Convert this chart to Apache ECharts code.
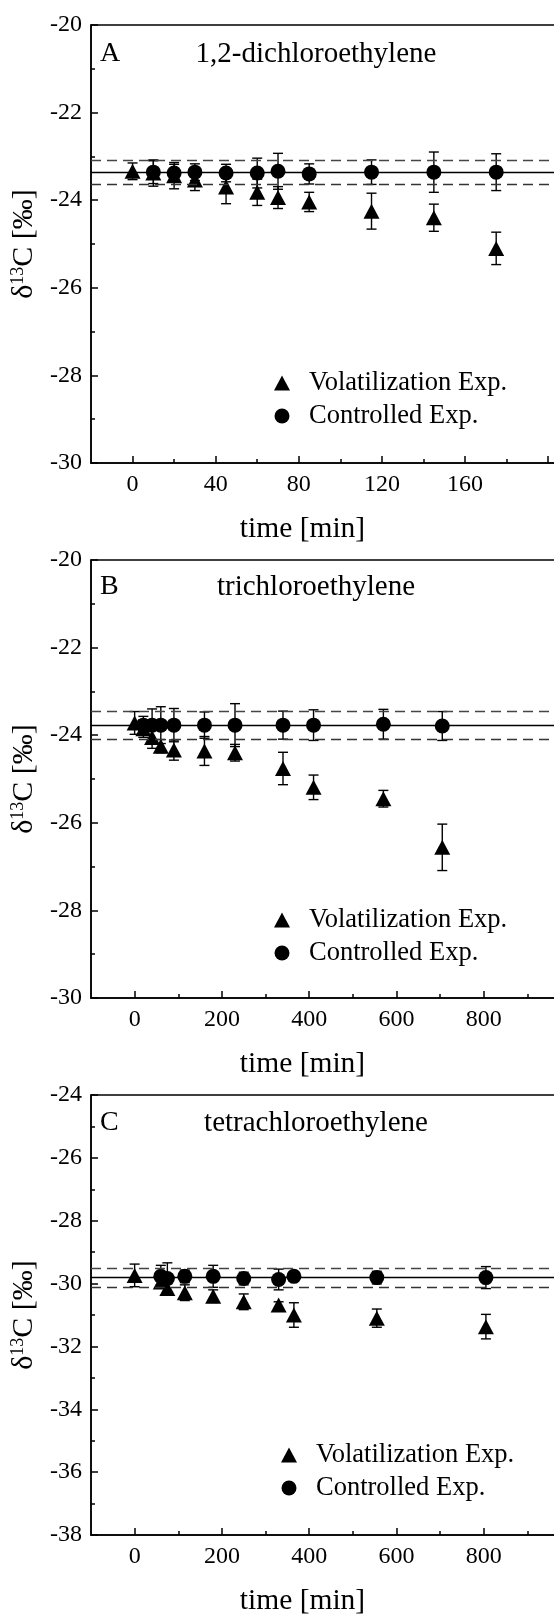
<!DOCTYPE html>
<html>
<head>
<meta charset="utf-8">
<script src="https://cdn.jsdelivr.net/npm/echarts@6/dist/echarts.min.js"></script>
<style>html,body{margin:0;padding:0;background:#fff}#c{width:554px;height:1616px}</style>
</head>
<body>
<div id="c"></div>
<script>
// ---------- data ----------
const panelLetters = ['A', 'B', 'C'];
const compounds = ['1,2-dichloroethylene', 'trichloroethylene', 'tetrachloroethylene'];
const seriesNames = ['Volatilization Exp.', 'Controlled Exp.'];

// Panel A
const volTimesA = [0, 10, 20, 30, 45, 60, 70, 85, 115, 145, 175];
const volA      = [-23.34, -23.38, -23.44, -23.54, -23.70, -23.82, -23.94, -24.04, -24.25, -24.40, -25.10];
const volErrA   = [0.19, 0.30, 0.30, 0.24, 0.38, 0.30, 0.25, 0.22, 0.41, 0.31, 0.37];
const ctlTimesA = [10, 20, 30, 45, 60, 70, 85, 115, 145, 175];
const ctlA      = [-23.36, -23.38, -23.36, -23.38, -23.38, -23.34, -23.40, -23.36, -23.36, -23.36];
const ctlErrA   = [0.26, 0.20, 0.19, 0.20, 0.34, 0.41, 0.23, 0.28, 0.46, 0.42];
const refA      = [-23.36, -23.08, -23.64]; // mean, upper, lower

// Panel B
const volTimesB = [0, 20, 40, 60, 90, 160, 230, 340, 410, 570, 705];
const volB      = [-23.72, -23.85, -24.05, -24.25, -24.34, -24.36, -24.40, -24.76, -25.19, -25.45, -26.56];
const volErrB   = [0.26, 0.20, 0.25, 0.15, 0.23, 0.33, 0.19, 0.37, 0.28, 0.19, 0.53];
const ctlTimesB = [20, 40, 60, 90, 160, 230, 340, 410, 570, 705];
const ctlB      = [-23.77, -23.77, -23.77, -23.77, -23.77, -23.77, -23.77, -23.77, -23.75, -23.79];
const ctlErrB   = [0.20, 0.37, 0.42, 0.38, 0.30, 0.49, 0.32, 0.35, 0.34, 0.33];
const refB      = [-23.77, -23.45, -24.09];

// Panel C
const volTimesC = [0, 60, 75, 115, 180, 250, 330, 365, 555, 805];
const volC      = [-29.74, -29.95, -30.16, -30.29, -30.40, -30.58, -30.68, -31.00, -31.10, -31.37];
const volErrC   = [0.36, 0.20, 0.15, 0.25, 0.20, 0.25, 0.10, 0.39, 0.29, 0.39];
const ctlTimesC = [60, 75, 115, 180, 250, 330, 365, 555, 805];
const ctlC      = [-29.77, -29.84, -29.77, -29.77, -29.84, -29.87, -29.77, -29.81, -29.81];
const ctlErrC   = [0.35, 0.50, 0.20, 0.35, 0.20, 0.33, 0.15, 0.20, 0.35];
const refC      = [-29.81, -29.51, -30.11];

// axes ticks
const xLabelsA = [0, 40, 80, 120, 160];
const xMajorA = [0, 40, 80, 120, 160, 200];
const xMinorA = [20, 60, 100, 140, 180];
const xLabelsBC = [0, 200, 400, 600, 800];
const xMajorBC = [0, 200, 400, 600, 800];
const xMinorBC = [100, 300, 500, 700, 900];
const yRangeA = [-30, -20];
const yRangeB = [-30, -20];
const yRangeC = [-38, -24];
const xRangeA = [-20, 211];
const xRangeBC = [-100, 1000];

// ---------- layout ----------
const FONT = "'Liberation Serif','Times New Roman',Times,serif";
const grids = [
  { left: 91, top: 25, width: 480, height: 438 },
  { left: 91, top: 560, width: 480, height: 438 },
  { left: 91, top: 1095, width: 480, height: 440 }
];
const legendPos = [
  { left: 269, top: 363 },
  { left: 269, top: 900 },
  { left: 276, top: 1435 }
];
const titleY = [54, 587, 1123];

const panels = [
  { xr: xRangeA, yr: yRangeA, xLab: xLabelsA, xMaj: xMajorA, xMin: xMinorA,
    vt: volTimesA, v: volA, ve: volErrA, ct: ctlTimesA, c: ctlA, ce: ctlErrA, ref: refA },
  { xr: xRangeBC, yr: yRangeB, xLab: xLabelsBC, xMaj: xMajorBC, xMin: xMinorBC,
    vt: volTimesB, v: volB, ve: volErrB, ct: ctlTimesB, c: ctlB, ce: ctlErrB, ref: refB },
  { xr: xRangeBC, yr: yRangeC, xLab: xLabelsBC, xMaj: xMajorBC, xMin: xMinorBC,
    vt: volTimesC, v: volC, ve: volErrC, ct: ctlTimesC, c: ctlC, ce: ctlErrC, ref: refC }
];

const xAxes = [], yAxes = [], series = [], legends = [], graphics = [];

function errRender(params, api) {
  const x = api.value(0), y = api.value(1), e = api.value(2);
  const top = api.coord([x, y + e]);
  const bot = api.coord([x, y - e]);
  const cw = 5;
  const st = { stroke: '#000', lineWidth: 1.4 };
  return {
    type: 'group',
    children: [
      { type: 'line', shape: { x1: top[0], y1: top[1], x2: bot[0], y2: bot[1] }, style: st },
      { type: 'line', shape: { x1: top[0] - cw, y1: top[1], x2: top[0] + cw, y2: top[1] }, style: st },
      { type: 'line', shape: { x1: bot[0] - cw, y1: bot[1], x2: bot[0] + cw, y2: bot[1] }, style: st }
    ]
  };
}

panels.forEach((p, i) => {
  xAxes.push({
    type: 'value', gridIndex: i, min: p.xr[0], max: p.xr[1], position: 'bottom',
    name: 'time [min]', nameLocation: 'middle', nameGap: 51,
    nameTextStyle: { fontFamily: FONT, fontSize: 29.5, color: '#000', padding: [0, 57, 0, 0] },
    axisLine: { onZero: false, lineStyle: { color: '#000', width: 1.5 } },
    axisTick: { inside: true, length: 7, customValues: p.xMaj, lineStyle: { color: '#000', width: 1.5 } },
    axisLabel: { customValues: p.xLab, fontFamily: FONT, fontSize: 24, color: '#000', margin: 10 },
    splitLine: { show: false }
  });
  xAxes.push({
    type: 'value', gridIndex: i, min: p.xr[0], max: p.xr[1], position: 'bottom',
    axisLine: { show: false, onZero: false },
    axisTick: { inside: true, length: 4, customValues: p.xMin, lineStyle: { color: '#000', width: 1.5 } },
    axisLabel: { show: false },
    splitLine: { show: false }
  });
  yAxes.push({
    type: 'value', gridIndex: i, min: p.yr[0], max: p.yr[1], interval: 2, position: 'left',
    name: '{d|δ}{s|13}{d|C [‰]}', nameLocation: 'middle', nameGap: 44, nameRotate: 90,
    nameTextStyle: {
      rich: {
        d: { fontFamily: FONT, fontSize: 30, color: '#000' },
        s: { fontFamily: FONT, fontSize: 18, color: '#000', verticalAlign: 'top' }
      }
    },
    axisLine: { onZero: false, lineStyle: { color: '#000', width: 1.5 } },
    axisTick: { inside: true, length: 7, lineStyle: { color: '#000', width: 1.5 } },
    minorTick: { show: true, splitNumber: 2, length: 4, lineStyle: { color: '#000', width: 1.5 } },
    axisLabel: { fontFamily: FONT, fontSize: 24, color: '#000', margin: 9 },
    splitLine: { show: false }
  });

  // error bars (under markers)
  series.push({
    type: 'custom', xAxisIndex: 2 * i, yAxisIndex: i, silent: true, z: 2,
    data: p.vt.map((t, k) => [t, p.v[k], p.ve[k]]),
    renderItem: errRender
  });
  series.push({
    type: 'custom', xAxisIndex: 2 * i, yAxisIndex: i, silent: true, z: 2,
    data: p.ct.map((t, k) => [t, p.c[k], p.ce[k]]),
    renderItem: errRender
  });
  series.push({
    name: seriesNames[0], type: 'scatter', xAxisIndex: 2 * i, yAxisIndex: i, z: 3,
    symbol: 'triangle', symbolSize: [16, 15],
    itemStyle: { color: '#000', opacity: 1 },
    data: p.vt.map((t, k) => [t, p.v[k]]),
    markLine: {
      silent: true, symbol: 'none', label: { show: false },
      data: [
        { yAxis: p.ref[0], lineStyle: { color: '#000', width: 1.3, type: 'solid' } },
        { yAxis: p.ref[1], lineStyle: { color: '#444', width: 1.3, type: [10, 6] } },
        { yAxis: p.ref[2], lineStyle: { color: '#333', width: 1.3, type: [10, 6] } }
      ]
    }
  });
  series.push({
    name: seriesNames[1], type: 'scatter', xAxisIndex: 2 * i, yAxisIndex: i, z: 4,
    symbol: 'circle', symbolSize: 15,
    itemStyle: { color: '#000', opacity: 1 },
    data: p.ct.map((t, k) => [t, p.c[k]])
  });

  legends.push({
    left: legendPos[i].left, top: legendPos[i].top, orient: 'vertical',
    data: seriesNames, itemWidth: 16, itemHeight: 15, itemGap: 3,
    selectedMode: false,
    textStyle: { fontFamily: FONT, fontSize: 26.5, color: '#000', lineHeight: 30, padding: [0, 0, 0, 14] }
  });

  graphics.push({
    type: 'text', x: 100, y: titleY[i],
    style: { text: panelLetters[i], font: '28px ' + FONT, fill: '#000', verticalAlign: 'middle', align: 'left' }
  });
  graphics.push({
    type: 'text', x: 316, y: titleY[i],
    style: { text: compounds[i], font: '29px ' + FONT, fill: '#000', verticalAlign: 'middle', align: 'center' }
  });
});

const chart = echarts.init(document.getElementById('c'), null, { renderer: 'canvas' });
chart.setOption({
  backgroundColor: '#fff',
  animation: false,
  grid: grids.map(g => Object.assign({ show: true, borderColor: '#000', borderWidth: 1.5, backgroundColor: 'transparent', containLabel: false, outerBoundsMode: 'none' }, g)),
  xAxis: xAxes,
  yAxis: yAxes,
  legend: legends,
  series: series,
  graphic: graphics
});
</script>
</body>
</html>
